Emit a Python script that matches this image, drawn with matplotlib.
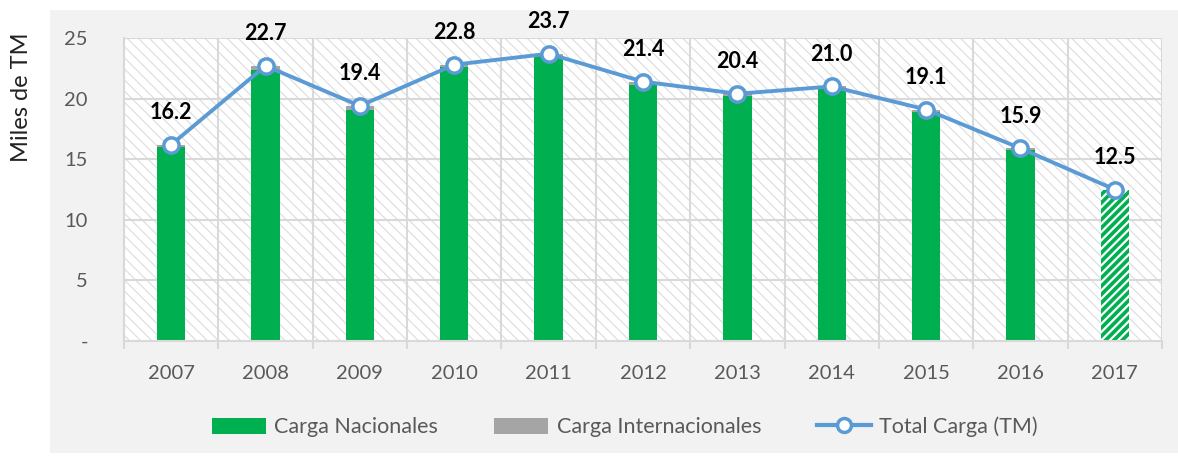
import matplotlib.pyplot as plt
from matplotlib.patches import Rectangle, Patch
from matplotlib.lines import Line2D
from matplotlib.ticker import FuncFormatter, MultipleLocator
import numpy as np

plt.rcParams['font.family'] = ['Lato', 'DejaVu Sans']

# Data (miles de TM)
years = ['2007', '2008', '2009', '2010', '2011', '2012', '2013', '2014', '2015', '2016', '2017']
total = [16.2, 22.7, 19.4, 22.8, 23.7, 21.4, 20.4, 21.0, 19.1, 15.9, 12.5]
internacional = [0.2, 0.3, 0.3, 0.2, 0.2, 0.3, 0.2, 0.2, 0.2, 0.1, 0.0]
nacional = [t - i for t, i in zip(total, internacional)]

green = '#00b050'
grey = '#a5a5a5'
blue = '#5b9bd5'
gridc = '#d9d9d9'

fig = plt.figure(figsize=(11.78, 4.58), dpi=100)
fig.patch.set_facecolor('white')
fig.patches.append(Rectangle((50 / 1178, 0.01), 1 - 50 / 1178, 0.968, transform=fig.transFigure,
                             facecolor='#f2f2f2', edgecolor='none', zorder=-10))

ax = fig.add_axes([124 / 1178, 1 - 341 / 458, 1038 / 1178, 303 / 458])
ax.set_facecolor('white')
x = np.arange(len(years))

# hatched plot background
plt.rcParams['hatch.linewidth'] = 0.8
bg = Rectangle((0, 0), 1, 1, transform=ax.transAxes, facecolor='white',
               edgecolor='#dcdcdc', hatch='\\\\\\', lw=0, zorder=0)
if hasattr(bg, 'set_hatch_linewidth'):
    bg.set_hatch_linewidth(0.8)
ax.add_patch(bg)

# grid
for yv in range(5, 30, 5):
    ax.axhline(yv, color=gridc, lw=1.5, zorder=1)
for xv in np.arange(-0.5, len(years), 1.0):
    ax.axvline(xv, color=gridc, lw=1.5, zorder=1)

w = 0.3
ax.bar(x[:-1], nacional[:-1], w, color=green, zorder=2)
ax.bar(x[:-1], internacional[:-1], w, bottom=nacional[:-1], color=grey, zorder=2)
plt.rcParams['hatch.linewidth'] = 1.6
last = ax.bar(x[-1], nacional[-1], w, color=green, edgecolor='white', hatch='////', lw=0, zorder=2)
for b in last:
    if hasattr(b, 'set_hatch_linewidth'):
        b.set_hatch_linewidth(1.6)

ax.plot(x, total, color=blue, lw=2.8, marker='o', markersize=11, markerfacecolor='white',
        markeredgecolor=blue, markeredgewidth=2.5, zorder=4)

for xi, t in zip(x, total):
    ax.annotate(f'{t:.1f}', (xi, t), xytext=(0, 23), textcoords='offset points',
                ha='center', va='center', fontsize=15.5, fontweight='bold', color='black', zorder=5)

ax.set_xlim(-0.5, len(years) - 0.5)
ax.set_ylim(0, 25)
ax.yaxis.set_major_locator(MultipleLocator(5))
ax.yaxis.set_major_formatter(FuncFormatter(lambda v, p: '-' if v == 0 else f'{v:.0f}'))
ax.set_xticks(x)
ax.set_xticklabels(years)
ax.set_xticks(np.arange(-0.5, len(years), 1.0), minor=True)
ax.tick_params(axis='x', which='major', length=0, pad=17, labelsize=14.5, labelcolor='#595959')
ax.tick_params(axis='x', which='minor', length=6, width=1.5, color=gridc, direction='out')
ax.tick_params(axis='y', length=0, pad=26, labelsize=14.5, labelcolor='#595959')

for s in ['top', 'right']:
    ax.spines[s].set_visible(False)
for s in ['left', 'bottom']:
    ax.spines[s].set_color(gridc)
    ax.spines[s].set_linewidth(1.5)

fig.text(22 / 1178, 1 - 97 / 458, 'Miles de TM', rotation=90, ha='center', va='center',
         fontsize=17, color='#222222')

handles = [Patch(facecolor=green, edgecolor='none'),
           Patch(facecolor=grey, edgecolor='none'),
           Line2D([0], [0], color=blue, lw=3, marker='o', markersize=10,
                  markerfacecolor='white', markeredgecolor=blue, markeredgewidth=2.5)]
labels = ['Carga Nacionales', 'Carga Internacionales', 'Total Carga (TM)']
fig.legend(handles, labels, loc='center', bbox_to_anchor=(625 / 1178, 1 - 427 / 458), ncol=3,
           frameon=False, fontsize=15.5, labelcolor='#595959', handlelength=2.5,
           handleheight=0.8, columnspacing=2.6, handletextpad=0.4)

fig.savefig('out.png', dpi=100, facecolor=fig.get_facecolor())
